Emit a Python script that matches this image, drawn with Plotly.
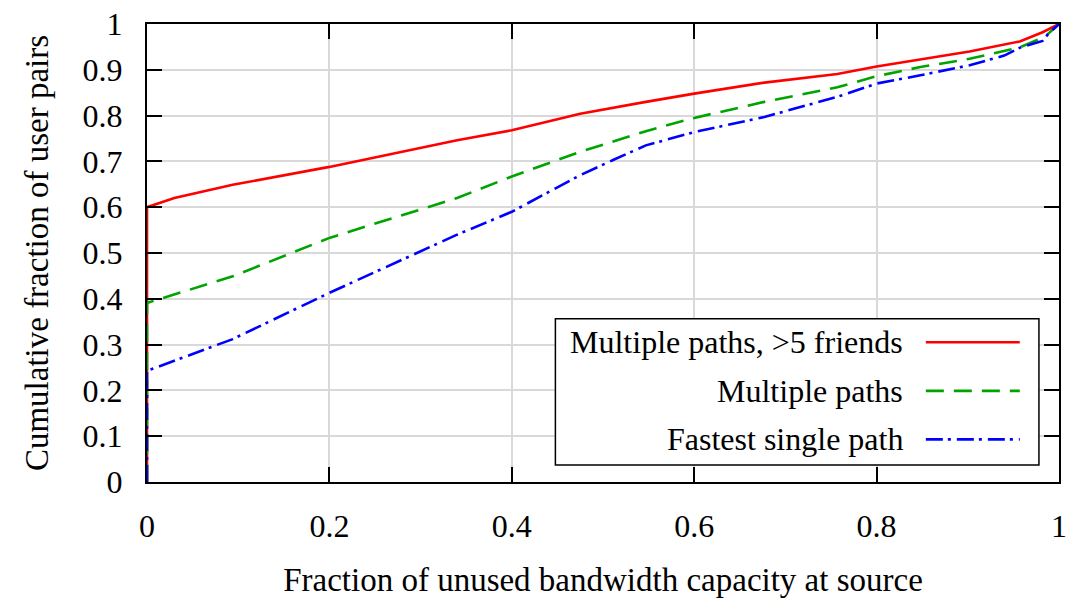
import plotly.graph_objects as go

# ---- data ----
x_red = [0, 0, 0.03, 0.094, 0.2, 0.34, 0.4, 0.475, 0.547, 0.6, 0.677, 0.757, 0.8, 0.848, 0.902, 0.957, 0.982, 1.0]
y_red = [0, 0.6, 0.62, 0.649, 0.688, 0.746, 0.768, 0.804, 0.83, 0.848, 0.872, 0.891, 0.907, 0.922, 0.94, 0.962, 0.982, 1.0]

x_green = [0, 0, 0.094, 0.2, 0.34, 0.4, 0.475, 0.547, 0.6, 0.677, 0.757, 0.8, 0.848, 0.902, 0.957, 0.985, 1.0]
y_green = [0, 0.391, 0.449, 0.533, 0.62, 0.667, 0.721, 0.766, 0.795, 0.83, 0.862, 0.886, 0.906, 0.924, 0.949, 0.973, 1.0]

x_blue = [0, 0, 0.01, 0.094, 0.2, 0.34, 0.4, 0.475, 0.511, 0.547, 0.6, 0.677, 0.757, 0.8, 0.848, 0.902, 0.94, 0.958, 0.982, 0.988, 1.0]
y_blue = [0, 0.243, 0.25, 0.312, 0.413, 0.54, 0.59, 0.67, 0.703, 0.735, 0.764, 0.797, 0.841, 0.87, 0.888, 0.91, 0.931, 0.949, 0.963, 0.978, 1.0]

series_names = ["Multiple paths, >5 friends", "Multiple paths", "Fastest single path"]
x_ticks = [0, 0.2, 0.4, 0.6, 0.8, 1]
x_tick_labels = ["0", "0.2", "0.4", "0.6", "0.8", "1"]
y_ticks = [0, 0.1, 0.2, 0.3, 0.4, 0.5, 0.6, 0.7, 0.8, 0.9, 1]
y_tick_labels = ["0", "0.1", "0.2", "0.3", "0.4", "0.5", "0.6", "0.7", "0.8", "0.9", "1"]

# ---- styles ----
FONT = "Liberation Serif"
FS_TICK = 32
FS_TITLE = 33
FS_LEG = 32
colors = ["#ff0000", "#00a400", "#0000ff"]
dashes = ["solid", "18px,10px", "17px,5px,3px,6px"]
LW = 2.6

fig = go.Figure()
for xs, ys, name, c, d in zip([x_red, x_green, x_blue], [y_red, y_green, y_blue],
                              series_names, colors, dashes):
    fig.add_trace(go.Scatter(x=xs, y=ys, mode="lines", name=name,
                             line=dict(color=c, width=LW, dash=d),
                             showlegend=False))

axis_common = dict(
    showline=True, linecolor="black", linewidth=2, mirror="ticks",
    ticks="inside", ticklen=15, tickwidth=2, tickcolor="black",
    showgrid=True, gridcolor="#d9d9d9", gridwidth=2, zeroline=False,
    tickfont=dict(family=FONT, size=FS_TICK),
)

fig.update_layout(
    width=1073, height=603,
    margin=dict(l=147, r=6, t=22, b=121),
    paper_bgcolor="white", plot_bgcolor="white",
    font=dict(family=FONT, size=FS_TICK, color="#000000"),
    xaxis=dict(range=[0, 1], tickvals=x_ticks, ticktext=x_tick_labels,
               ticklabelstandoff=15,
               title=dict(text="Fraction of unused bandwidth capacity at source",
                          font=dict(family=FONT, size=FS_TITLE), standoff=24),
               **axis_common),
    yaxis=dict(range=[0, 1], tickvals=y_ticks, ticktext=y_tick_labels,
               ticklabelstandoff=16,
               title=dict(text="Cumulative fraction of user pairs",
                          font=dict(family=FONT, size=FS_TITLE), standoff=24),
               **axis_common),
)

# ---- hand-built legend (gnuplot style: text right-aligned, sample to the right) ----
lx0, lx1, ly0, ly1 = 0.4478, 0.978, 0.037, 0.3565
fig.add_shape(type="rect", xref="paper", yref="paper", x0=lx0, x1=lx1, y0=ly0, y1=ly1,
              line=dict(color="black", width=1.5), fillcolor="white", layer="above")
rows_y = [0.305, 0.199, 0.093]
for name, c, d, ry in zip(series_names, colors, dashes, rows_y):
    fig.add_annotation(xref="paper", yref="paper", x=0.831, y=ry, text=name,
                       showarrow=False, xanchor="right", yanchor="middle",
                       font=dict(family=FONT, size=FS_LEG))
    fig.add_shape(type="line", xref="paper", yref="paper", x0=0.854, x1=0.957,
                  y0=ry, y1=ry, line=dict(color=c, width=LW, dash=d), layer="above")

fig.write_html("out.html")
